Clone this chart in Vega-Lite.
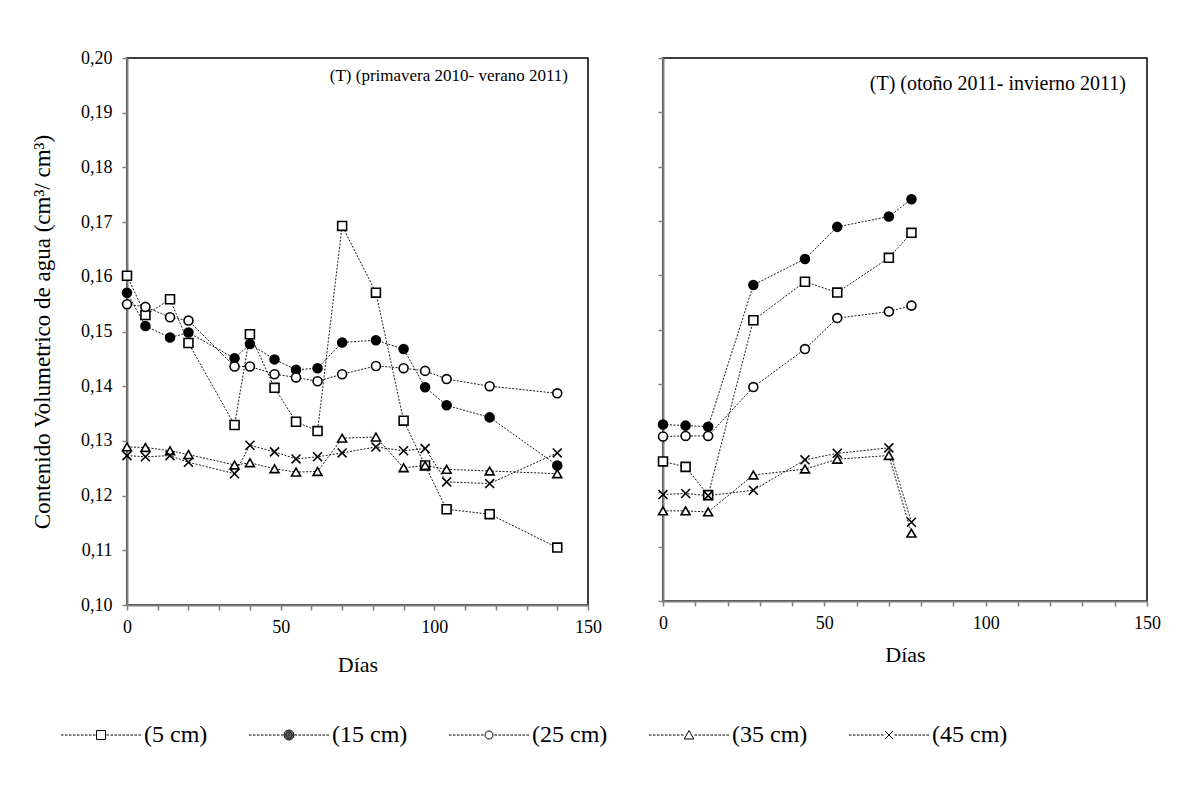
{
  "$schema": "https://vega.github.io/schema/vega-lite/v6.json",
  "padding": {"left": 30, "top": 48, "right": 0, "bottom": 0},
  "background": "white",
  "config": {
    "font": "Liberation Serif",
    "view": {"stroke": "black", "strokeWidth": 1.5},
    "axis": {"grid": false, "domainColor": "#7f7f7f", "domainWidth": 2, "tickColor": "#7f7f7f", "tickWidth": 1.5, "tickSize": 5, "labelColor": "black", "labelFont": "Liberation Serif", "labelFontSize": 18, "titleFont": "Liberation Serif", "titleFontSize": 22, "titleFontWeight": "normal", "titleColor": "black"}
  },
  "datasets": {
    "d": [
      {"p": "A", "prof": "(5 cm)", "dia": 0, "v": 0.1602}, {"p": "A", "prof": "(5 cm)", "dia": 6, "v": 0.153}, {"p": "A", "prof": "(5 cm)", "dia": 14, "v": 0.1559}, {"p": "A", "prof": "(5 cm)", "dia": 20, "v": 0.1479}, {"p": "A", "prof": "(5 cm)", "dia": 35, "v": 0.1329}, {"p": "A", "prof": "(5 cm)", "dia": 40, "v": 0.1495}, {"p": "A", "prof": "(5 cm)", "dia": 48, "v": 0.1397}, {"p": "A", "prof": "(5 cm)", "dia": 55, "v": 0.1335}, {"p": "A", "prof": "(5 cm)", "dia": 62, "v": 0.1318}, {"p": "A", "prof": "(5 cm)", "dia": 70, "v": 0.1693}, {"p": "A", "prof": "(5 cm)", "dia": 81, "v": 0.1571}, {"p": "A", "prof": "(5 cm)", "dia": 90, "v": 0.1337}, {"p": "A", "prof": "(5 cm)", "dia": 97, "v": 0.1255}, {"p": "A", "prof": "(5 cm)", "dia": 104, "v": 0.1175}, {"p": "A", "prof": "(5 cm)", "dia": 118, "v": 0.1166}, {"p": "A", "prof": "(5 cm)", "dia": 140, "v": 0.1105},
      {"p": "A", "prof": "(15 cm)", "dia": 0, "v": 0.1571}, {"p": "A", "prof": "(15 cm)", "dia": 6, "v": 0.151}, {"p": "A", "prof": "(15 cm)", "dia": 14, "v": 0.1489}, {"p": "A", "prof": "(15 cm)", "dia": 20, "v": 0.1498}, {"p": "A", "prof": "(15 cm)", "dia": 35, "v": 0.1451}, {"p": "A", "prof": "(15 cm)", "dia": 40, "v": 0.1477}, {"p": "A", "prof": "(15 cm)", "dia": 48, "v": 0.1449}, {"p": "A", "prof": "(15 cm)", "dia": 55, "v": 0.143}, {"p": "A", "prof": "(15 cm)", "dia": 62, "v": 0.1433}, {"p": "A", "prof": "(15 cm)", "dia": 70, "v": 0.148}, {"p": "A", "prof": "(15 cm)", "dia": 81, "v": 0.1484}, {"p": "A", "prof": "(15 cm)", "dia": 90, "v": 0.1468}, {"p": "A", "prof": "(15 cm)", "dia": 97, "v": 0.1398}, {"p": "A", "prof": "(15 cm)", "dia": 104, "v": 0.1365}, {"p": "A", "prof": "(15 cm)", "dia": 118, "v": 0.1343}, {"p": "A", "prof": "(15 cm)", "dia": 140, "v": 0.1255},
      {"p": "A", "prof": "(25 cm)", "dia": 0, "v": 0.155}, {"p": "A", "prof": "(25 cm)", "dia": 6, "v": 0.1545}, {"p": "A", "prof": "(25 cm)", "dia": 14, "v": 0.1526}, {"p": "A", "prof": "(25 cm)", "dia": 20, "v": 0.152}, {"p": "A", "prof": "(25 cm)", "dia": 35, "v": 0.1436}, {"p": "A", "prof": "(25 cm)", "dia": 40, "v": 0.1436}, {"p": "A", "prof": "(25 cm)", "dia": 48, "v": 0.1422}, {"p": "A", "prof": "(25 cm)", "dia": 55, "v": 0.1416}, {"p": "A", "prof": "(25 cm)", "dia": 62, "v": 0.1409}, {"p": "A", "prof": "(25 cm)", "dia": 70, "v": 0.1422}, {"p": "A", "prof": "(25 cm)", "dia": 81, "v": 0.1437}, {"p": "A", "prof": "(25 cm)", "dia": 90, "v": 0.1433}, {"p": "A", "prof": "(25 cm)", "dia": 97, "v": 0.1428}, {"p": "A", "prof": "(25 cm)", "dia": 104, "v": 0.1413}, {"p": "A", "prof": "(25 cm)", "dia": 118, "v": 0.14}, {"p": "A", "prof": "(25 cm)", "dia": 140, "v": 0.1387},
      {"p": "A", "prof": "(35 cm)", "dia": 0, "v": 0.1289}, {"p": "A", "prof": "(35 cm)", "dia": 6, "v": 0.1288}, {"p": "A", "prof": "(35 cm)", "dia": 14, "v": 0.1282}, {"p": "A", "prof": "(35 cm)", "dia": 20, "v": 0.1275}, {"p": "A", "prof": "(35 cm)", "dia": 35, "v": 0.1256}, {"p": "A", "prof": "(35 cm)", "dia": 40, "v": 0.126}, {"p": "A", "prof": "(35 cm)", "dia": 48, "v": 0.1249}, {"p": "A", "prof": "(35 cm)", "dia": 55, "v": 0.1243}, {"p": "A", "prof": "(35 cm)", "dia": 62, "v": 0.1244}, {"p": "A", "prof": "(35 cm)", "dia": 70, "v": 0.1305}, {"p": "A", "prof": "(35 cm)", "dia": 81, "v": 0.1307}, {"p": "A", "prof": "(35 cm)", "dia": 90, "v": 0.1251}, {"p": "A", "prof": "(35 cm)", "dia": 97, "v": 0.1255}, {"p": "A", "prof": "(35 cm)", "dia": 104, "v": 0.1248}, {"p": "A", "prof": "(35 cm)", "dia": 118, "v": 0.1245}, {"p": "A", "prof": "(35 cm)", "dia": 140, "v": 0.124},
      {"p": "A", "prof": "(45 cm)", "dia": 0, "v": 0.1273}, {"p": "A", "prof": "(45 cm)", "dia": 6, "v": 0.1271}, {"p": "A", "prof": "(45 cm)", "dia": 14, "v": 0.1273}, {"p": "A", "prof": "(45 cm)", "dia": 20, "v": 0.1261}, {"p": "A", "prof": "(45 cm)", "dia": 35, "v": 0.124}, {"p": "A", "prof": "(45 cm)", "dia": 40, "v": 0.1292}, {"p": "A", "prof": "(45 cm)", "dia": 48, "v": 0.128}, {"p": "A", "prof": "(45 cm)", "dia": 55, "v": 0.1267}, {"p": "A", "prof": "(45 cm)", "dia": 62, "v": 0.1271}, {"p": "A", "prof": "(45 cm)", "dia": 70, "v": 0.1278}, {"p": "A", "prof": "(45 cm)", "dia": 81, "v": 0.1289}, {"p": "A", "prof": "(45 cm)", "dia": 90, "v": 0.1282}, {"p": "A", "prof": "(45 cm)", "dia": 97, "v": 0.1286}, {"p": "A", "prof": "(45 cm)", "dia": 104, "v": 0.1225}, {"p": "A", "prof": "(45 cm)", "dia": 118, "v": 0.1222}, {"p": "A", "prof": "(45 cm)", "dia": 140, "v": 0.1278},
      {"p": "B", "prof": "(5 cm)", "dia": 0, "v": 0.1257}, {"p": "B", "prof": "(5 cm)", "dia": 7, "v": 0.1247}, {"p": "B", "prof": "(5 cm)", "dia": 14, "v": 0.1195}, {"p": "B", "prof": "(5 cm)", "dia": 28, "v": 0.1517}, {"p": "B", "prof": "(5 cm)", "dia": 44, "v": 0.1588}, {"p": "B", "prof": "(5 cm)", "dia": 54, "v": 0.1568}, {"p": "B", "prof": "(5 cm)", "dia": 70, "v": 0.1632}, {"p": "B", "prof": "(5 cm)", "dia": 77, "v": 0.1678},
      {"p": "B", "prof": "(15 cm)", "dia": 0, "v": 0.1325}, {"p": "B", "prof": "(15 cm)", "dia": 7, "v": 0.1323}, {"p": "B", "prof": "(15 cm)", "dia": 14, "v": 0.1321}, {"p": "B", "prof": "(15 cm)", "dia": 28, "v": 0.1582}, {"p": "B", "prof": "(15 cm)", "dia": 44, "v": 0.163}, {"p": "B", "prof": "(15 cm)", "dia": 54, "v": 0.1689}, {"p": "B", "prof": "(15 cm)", "dia": 70, "v": 0.1708}, {"p": "B", "prof": "(15 cm)", "dia": 77, "v": 0.174},
      {"p": "B", "prof": "(25 cm)", "dia": 0, "v": 0.1303}, {"p": "B", "prof": "(25 cm)", "dia": 7, "v": 0.1304}, {"p": "B", "prof": "(25 cm)", "dia": 14, "v": 0.1304}, {"p": "B", "prof": "(25 cm)", "dia": 28, "v": 0.1394}, {"p": "B", "prof": "(25 cm)", "dia": 44, "v": 0.1464}, {"p": "B", "prof": "(25 cm)", "dia": 54, "v": 0.1521}, {"p": "B", "prof": "(25 cm)", "dia": 70, "v": 0.1533}, {"p": "B", "prof": "(25 cm)", "dia": 77, "v": 0.1544},
      {"p": "B", "prof": "(35 cm)", "dia": 0, "v": 0.1166}, {"p": "B", "prof": "(35 cm)", "dia": 7, "v": 0.1166}, {"p": "B", "prof": "(35 cm)", "dia": 14, "v": 0.1164}, {"p": "B", "prof": "(35 cm)", "dia": 28, "v": 0.1232}, {"p": "B", "prof": "(35 cm)", "dia": 44, "v": 0.1243}, {"p": "B", "prof": "(35 cm)", "dia": 54, "v": 0.1261}, {"p": "B", "prof": "(35 cm)", "dia": 70, "v": 0.1268}, {"p": "B", "prof": "(35 cm)", "dia": 77, "v": 0.1125},
      {"p": "B", "prof": "(45 cm)", "dia": 0, "v": 0.1196}, {"p": "B", "prof": "(45 cm)", "dia": 7, "v": 0.1198}, {"p": "B", "prof": "(45 cm)", "dia": 14, "v": 0.1194}, {"p": "B", "prof": "(45 cm)", "dia": 28, "v": 0.1204}, {"p": "B", "prof": "(45 cm)", "dia": 44, "v": 0.126}, {"p": "B", "prof": "(45 cm)", "dia": 54, "v": 0.1272}, {"p": "B", "prof": "(45 cm)", "dia": 70, "v": 0.1282}, {"p": "B", "prof": "(45 cm)", "dia": 77, "v": 0.1145}
    ]
  },
  "resolve": {"scale": {"shape": "independent", "fill": "independent"}, "legend": {"shape": "independent", "fill": "independent"}},
  "spacing": 20,
  "vconcat": [
    {
      "spacing": 51,
      "hconcat": [
        {
          "width": 461, "height": 547,
          "data": {"name": "d"},
          "transform": [{"filter": "datum.p == 'A'"}],
          "title": {"text": "(T) (primavera 2010- verano 2011)", "anchor": "end", "frame": "group", "offset": -36, "dx": -20, "fontSize": 17, "fontWeight": "normal", "font": "Liberation Serif", "color": "black"},
          "encoding": {
            "x": {"field": "dia", "type": "quantitative", "scale": {"domain": [0, 150], "nice": false}, "axis": {"title": "Días", "values": [0, 10, 20, 30, 40, 50, 60, 70, 80, 90, 100, 110, 120, 130, 140, 150], "labelExpr": "datum.value % 50 == 0 ? datum.label : ''", "labelFlush": false, "labelPadding": 8, "titlePadding": 18}},
            "y": {"field": "v", "type": "quantitative", "scale": {"domain": [0.1, 0.2], "nice": false, "zero": false}, "axis": {"title": "Contenido Volumetrico de agua (cm³/ cm³)", "titleFontSize": 23, "values": [0.1, 0.11, 0.12, 0.13, 0.14, 0.15, 0.16, 0.17, 0.18, 0.19, 0.2], "labelExpr": "replace(format(datum.value, '.2f'), '.', ',')", "labelPadding": 10, "titlePadding": 26}}
          },
          "layer": [
            {"mark": {"type": "line", "color": "black", "strokeWidth": 0.9, "strokeDash": [2, 1.5]}, "encoding": {"detail": {"field": "prof"}}},
            {"mark": {"type": "point", "filled": true, "stroke": "black", "strokeWidth": 1.6, "size": 80, "opacity": 1},
             "encoding": {
               "shape": {"field": "prof", "type": "nominal", "scale": {"domain": ["(5 cm)", "(15 cm)", "(25 cm)", "(35 cm)", "(45 cm)"], "range": ["square", "circle", "circle", "triangle-up", "M-1,-1L1,1M-1,1L1,-1"]}, "legend": null},
               "fill": {"field": "prof", "type": "nominal", "scale": {"domain": ["(5 cm)", "(15 cm)", "(25 cm)", "(35 cm)", "(45 cm)"], "range": ["white", "black", "white", "white", "white"]}, "legend": null}
             }}
          ]
        },
        {
          "width": 484, "height": 543,
          "data": {"name": "d"},
          "transform": [{"filter": "datum.p == 'B'"}],
          "title": {"text": "(T) (otoño 2011- invierno 2011)", "anchor": "end", "frame": "group", "offset": -37, "dx": -21, "fontSize": 20, "fontWeight": "normal", "font": "Liberation Serif", "color": "black"},
          "encoding": {
            "x": {"field": "dia", "type": "quantitative", "scale": {"domain": [0, 150], "nice": false}, "axis": {"title": "Días", "values": [0, 10, 20, 30, 40, 50, 60, 70, 80, 90, 100, 110, 120, 130, 140, 150], "labelExpr": "datum.value % 50 == 0 ? datum.label : ''", "labelFlush": false, "labelPadding": 8, "titlePadding": 12}},
            "y": {"field": "v", "type": "quantitative", "scale": {"domain": [0.1, 0.2], "nice": false, "zero": false}, "axis": {"title": null, "labels": false, "values": [0.1, 0.11, 0.12, 0.13, 0.14, 0.15, 0.16, 0.17, 0.18, 0.19, 0.2]}}
          },
          "layer": [
            {"mark": {"type": "line", "color": "black", "strokeWidth": 0.9, "strokeDash": [2, 1.5]}, "encoding": {"detail": {"field": "prof"}}},
            {"mark": {"type": "point", "filled": true, "stroke": "black", "strokeWidth": 1.6, "size": 80, "opacity": 1},
             "encoding": {
               "shape": {"field": "prof", "type": "nominal", "scale": {"domain": ["(5 cm)", "(15 cm)", "(25 cm)", "(35 cm)", "(45 cm)"], "range": ["square", "circle", "circle", "triangle-up", "M-1,-1L1,1M-1,1L1,-1"]}, "legend": null},
               "fill": {"field": "prof", "type": "nominal", "scale": {"domain": ["(5 cm)", "(15 cm)", "(25 cm)", "(35 cm)", "(45 cm)"], "range": ["white", "black", "white", "white", "white"]}, "legend": null}
             }}
          ]
        }
      ]
    },
    {
      "width": 1000, "height": 1,
      "view": {"stroke": null},
      "data": {"name": "d"},
      "transform": [{"filter": "false"}],
      "mark": {"type": "point", "filled": false, "stroke": "black", "strokeWidth": 1, "opacity": 1},
      "encoding": {
        "shape": {"field": "prof", "type": "nominal",
          "scale": {"domain": ["(5 cm)", "(15 cm)", "(25 cm)", "(35 cm)", "(45 cm)"],
            "range": [
              "M-1,0h0.5M-0.2,0h0.5M0.6,0h0.5M1.4,0h0.5M2.2,0h0.5M3,0h0.5M3.8,0h0.5M4.6,0h0.5M5.4,0h0.5M8.1,0h0.5M8.9,0h0.5M9.7,0h0.5M10.5,0h0.5M11.3,0h0.5M12.1,0h0.5M12.9,0h0.5M13.7,0h0.5M14.5,0h0.5M6.1,-0.9H7.9V0.9H6.1Z",
              "M-1,0h0.5M-0.2,0h0.5M0.6,0h0.5M1.4,0h0.5M2.2,0h0.5M3,0h0.5M3.8,0h0.5M4.6,0h0.5M5.4,0h0.5M8.1,0h0.5M8.9,0h0.5M9.7,0h0.5M10.5,0h0.5M11.3,0h0.5M12.1,0h0.5M12.9,0h0.5M13.7,0h0.5M14.5,0h0.5M8,0A1,1,0,1,1,6,0A1,1,0,1,1,8,0M7.8,0A0.8,0.8,0,1,1,6.2,0A0.8,0.8,0,1,1,7.8,0M7.6,0A0.6,0.6,0,1,1,6.4,0A0.6,0.6,0,1,1,7.6,0M7.4,0A0.4,0.4,0,1,1,6.6,0A0.4,0.4,0,1,1,7.4,0M7.2,0A0.2,0.2,0,1,1,6.8,0A0.2,0.2,0,1,1,7.2,0",
              "M-1,0h0.5M-0.2,0h0.5M0.6,0h0.5M1.4,0h0.5M2.2,0h0.5M3,0h0.5M3.8,0h0.5M4.6,0h0.5M5.4,0h0.5M8.1,0h0.5M8.9,0h0.5M9.7,0h0.5M10.5,0h0.5M11.3,0h0.5M12.1,0h0.5M12.9,0h0.5M13.7,0h0.5M14.5,0h0.5M7.8,0A0.8,0.8,0,1,1,6.2,0A0.8,0.8,0,1,1,7.8,0",
              "M-1,0h0.5M-0.2,0h0.5M0.6,0h0.5M1.4,0h0.5M2.2,0h0.5M3,0h0.5M3.8,0h0.5M4.6,0h0.5M5.4,0h0.5M8.1,0h0.5M8.9,0h0.5M9.7,0h0.5M10.5,0h0.5M11.3,0h0.5M12.1,0h0.5M12.9,0h0.5M13.7,0h0.5M14.5,0h0.5M7,-0.9L7.95,0.8H6.05Z",
              "M-1,0h0.5M-0.2,0h0.5M0.6,0h0.5M1.4,0h0.5M2.2,0h0.5M3,0h0.5M3.8,0h0.5M4.6,0h0.5M5.4,0h0.5M8.1,0h0.5M8.9,0h0.5M9.7,0h0.5M10.5,0h0.5M11.3,0h0.5M12.1,0h0.5M12.9,0h0.5M13.7,0h0.5M14.5,0h0.5M6.2,-0.8L7.8,0.8M6.2,0.8L7.8,-0.8"
            ]},
          "legend": {"title": null, "orient": "none", "legendX": -73, "legendY": 27, "direction": "horizontal", "columns": 5, "columnPadding": 34, "symbolSize": 100, "symbolStrokeWidth": 1, "symbolStrokeColor": "black", "symbolFillColor": "white", "symbolOpacity": 1, "labelFont": "Liberation Serif", "labelFontSize": 24, "labelColor": "black", "labelOffset": 66, "labelLimit": 400}}
      }
    }
  ]
}
